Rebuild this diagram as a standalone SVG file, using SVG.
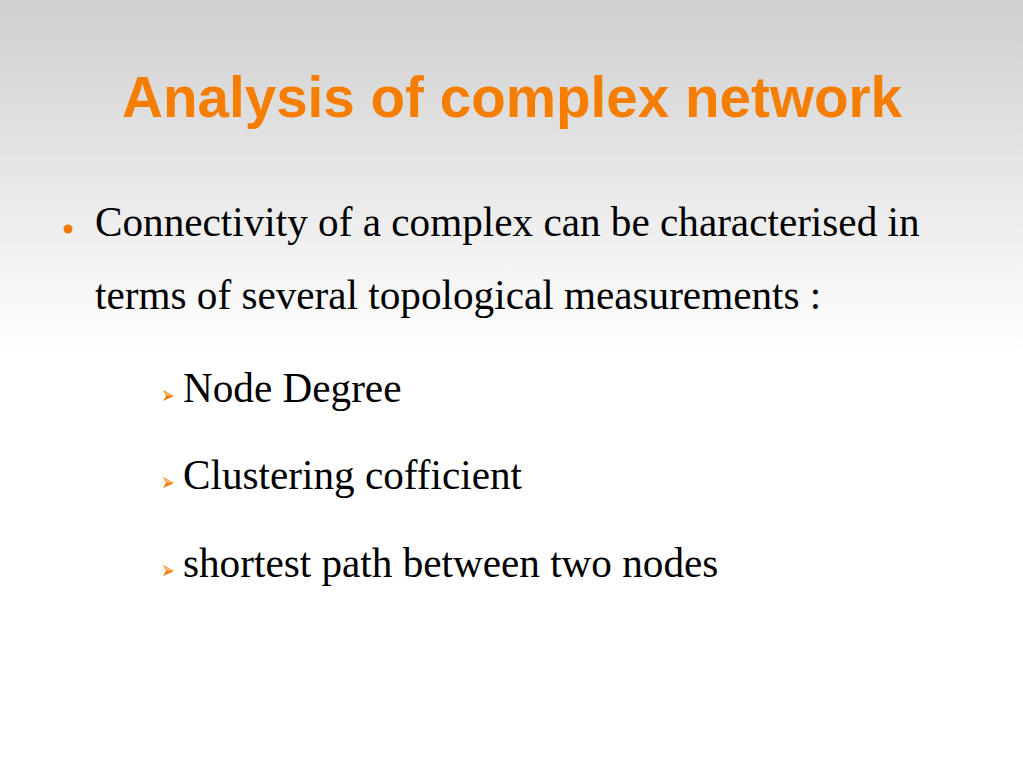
<svg xmlns="http://www.w3.org/2000/svg" width="1023" height="767" viewBox="0 0 1023 767">
<defs>
<linearGradient id="bg" x1="0" y1="0" x2="0" y2="1" gradientUnits="objectBoundingBox">
<stop offset="0" stop-color="#cfcfcf"/>
<stop offset="0.46" stop-color="#ffffff"/>
<stop offset="1" stop-color="#ffffff"/>
</linearGradient>
<g id="arrow">
<polygon points="0,0 11,6 0,11 3,6" fill="#f07a00"/>
<polygon points="0,0 11,6 3,6" fill="#f8b060"/>
</g>
</defs>
<style>
.title{font-family:"Liberation Sans",Arial,sans-serif;font-weight:bold;font-size:56.6px;fill:#f57d00}
.body{font-family:"Liberation Serif","Times New Roman",serif;font-size:41.2px;fill:#000}
</style>
<rect x="0" y="0" width="1023" height="767" fill="url(#bg)"/>
<text class="title" x="512" y="117" text-anchor="middle">Analysis of complex network</text>
<g id="bullet1">
<circle cx="68" cy="229" r="4.5" fill="#f07a00"/>
<text class="body" x="95" y="236">Connectivity of a complex can be characterised in</text>
<text class="body" x="95" y="309">terms of several topological measurements :</text>
</g>
<g id="sub1">
<use href="#arrow" x="163" y="390"/>
<text class="body" x="183" y="402">Node Degree</text>
</g>
<g id="sub2">
<use href="#arrow" x="163" y="477"/>
<text class="body" x="183" y="489">Clustering cofficient</text>
</g>
<g id="sub3">
<use href="#arrow" x="163" y="565"/>
<text class="body" x="183" y="577">shortest path between two nodes</text>
</g>
</svg>
